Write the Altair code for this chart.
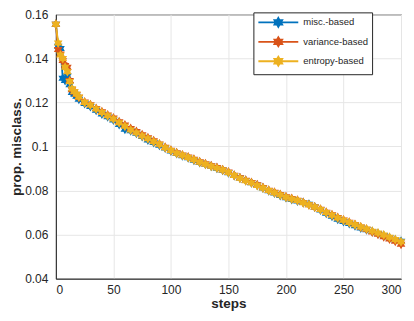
import altair as alt
import pandas as pd

steps = [0, 2, 4, 6, 8, 10, 12, 14, 16, 18, 20, 25, 30, 35, 40, 45, 50, 55, 60, 65, 70,
         75, 80, 85, 90, 95, 100, 105, 110, 115, 120, 125, 130, 135, 140, 145, 150,
         155, 160, 165, 170, 175, 180, 185, 190, 195, 200, 205, 210, 215, 220, 225,
         230, 235, 240, 245, 250, 255, 260, 265, 270, 275, 280, 285, 290, 295, 300]

misc_based = [0.1555, 0.1455, 0.1445, 0.1310, 0.1300, 0.1320, 0.1280, 0.1245, 0.1238, 0.1228,
              0.1215, 0.1195, 0.1182, 0.1165, 0.1148, 0.1135, 0.1120, 0.1100, 0.1078, 0.1072,
              0.1060, 0.1045, 0.1030, 0.1018, 0.1006, 0.0993, 0.0980, 0.0968, 0.0958, 0.0949,
              0.0938, 0.0928, 0.0919, 0.0910, 0.0901, 0.0892, 0.0881, 0.0868, 0.0857, 0.0846,
              0.0835, 0.0824, 0.0812, 0.0799, 0.0789, 0.0778, 0.0768, 0.0760, 0.0753, 0.0746,
              0.0738, 0.0725, 0.0712, 0.0697, 0.0683, 0.0670, 0.0660, 0.0650, 0.0640, 0.0630,
              0.0622, 0.0614, 0.0605, 0.0596, 0.0586, 0.0576, 0.0570]

variance_based = [0.1555, 0.1440, 0.1420, 0.1390, 0.1368, 0.1360, 0.1300, 0.1258, 0.1248, 0.1236,
                  0.1224, 0.1202, 0.1190, 0.1173, 0.1158, 0.1143, 0.1130, 0.1113, 0.1098, 0.1082,
                  0.1068, 0.1054, 0.1040, 0.1026, 0.1012, 0.0997, 0.0983, 0.0972, 0.0962, 0.0952,
                  0.0942, 0.0931, 0.0922, 0.0913, 0.0905, 0.0895, 0.0884, 0.0870, 0.0858, 0.0847,
                  0.0837, 0.0826, 0.0814, 0.0802, 0.0792, 0.0782, 0.0772, 0.0764, 0.0756, 0.0746,
                  0.0736, 0.0726, 0.0715, 0.0702, 0.0690, 0.0678, 0.0667, 0.0656, 0.0646, 0.0635,
                  0.0624, 0.0612, 0.0602, 0.0590, 0.0580, 0.0570, 0.0556]

entropy_based = [0.1555, 0.1470, 0.1415, 0.1400, 0.1360, 0.1340, 0.1295, 0.1262, 0.1250, 0.1238,
                 0.1225, 0.1200, 0.1188, 0.1170, 0.1155, 0.1140, 0.1125, 0.1108, 0.1092, 0.1075,
                 0.1062, 0.1048, 0.1035, 0.1022, 0.1010, 0.0995, 0.0982, 0.0970, 0.0960, 0.0950,
                 0.0940, 0.0929, 0.0920, 0.0910, 0.0902, 0.0893, 0.0882, 0.0868, 0.0856, 0.0845,
                 0.0835, 0.0823, 0.0812, 0.0800, 0.0790, 0.0780, 0.0770, 0.0762, 0.0755, 0.0745,
                 0.0736, 0.0725, 0.0714, 0.0700, 0.0688, 0.0676, 0.0665, 0.0655, 0.0645, 0.0635,
                 0.0626, 0.0616, 0.0608, 0.0598, 0.0588, 0.0578, 0.0568]

series_names = ["misc.-based", "variance-based", "entropy-based"]
series_colors = ["#0072BD", "#D95319", "#EDB120"]

rows = []
for name, vals in zip(series_names, [misc_based, variance_based, entropy_based]):
    for s, v in zip(steps, vals):
        rows.append({"steps": s, "value": v, "method": name})
df = pd.DataFrame(rows)

hexagram = ("M0,-1 L0.289,-0.5 L0.866,-0.5 L0.577,0 L0.866,0.5 L0.289,0.5 L0,1 "
            "L-0.289,0.5 L-0.866,0.5 L-0.577,0 L-0.866,-0.5 L-0.289,-0.5 Z")
# legend symbol: a line of +-20px with a small hexagram (scale 5px per unit)
legend_sym = ("M-4,0 L4,0 M0,-0.9 L0.26,-0.45 L0.78,-0.45 L0.52,0 L0.78,0.45 L0.26,0.45 "
              "L0,0.9 L-0.26,0.45 L-0.78,0.45 L-0.52,0 L-0.78,-0.45 L-0.26,-0.45 Z")

font = "Liberation Sans"

x_enc = alt.X("steps:Q",
              scale=alt.Scale(domain=[0, 300], nice=False),
              axis=alt.Axis(values=[0, 50, 100, 150, 200, 250, 300], title="steps",
                            titleFontWeight="bold", titleFontSize=13.5, titlePadding=1,
                            labelFontSize=12, labelPadding=6, tickSize=0))
y_enc = alt.Y("value:Q",
              scale=alt.Scale(domain=[0.04, 0.16], nice=False, zero=False),
              axis=alt.Axis(values=[0.04, 0.06, 0.08, 0.1, 0.12, 0.14, 0.16], format="~g",
                            title="prop. misclass.", titleFontWeight="bold", titleFontSize=13.5,
                            titlePadding=1, labelFontSize=12, labelPadding=8, tickSize=0))
color_enc = alt.Color("method:N",
                      scale=alt.Scale(domain=series_names, range=series_colors),
                      legend=alt.Legend(title=None, orient="none", legendX=198, legendY=-2,
                                        symbolType=legend_sym, symbolSize=100,
                                        symbolStrokeWidth=1.8, labelFontSize=9.5,
                                        labelFont=font, labelColor="#262626",
                                        rowPadding=1.5, padding=4,
                                        strokeColor="#262626", fillColor="white",
                                        symbolOffset=15, labelOffset=19))

lines = alt.Chart(df).mark_line(strokeWidth=1.8).encode(
    x=x_enc, y=y_enc, color=color_enc, detail="method:N")
points = alt.Chart(df).mark_point(shape=hexagram, filled=True, size=100, opacity=1).encode(
    x=x_enc, y=y_enc, color=color_enc)

chart = alt.layer(lines, points).properties(
    width=346, height=265,
    autosize=alt.AutoSizeParams(type="none"),
    padding={"left": 48, "top": 6, "right": 5, "bottom": 32},
).configure_axis(
    labelFont=font, titleFont=font, labelColor="#262626", titleColor="#262626",
    domainColor="#262626", grid=True, gridColor="#e6e6e6",
).configure_view(stroke="#262626", strokeWidth=1)

chart.save("out.html", embed_options={"renderer": "svg", "actions": False})
